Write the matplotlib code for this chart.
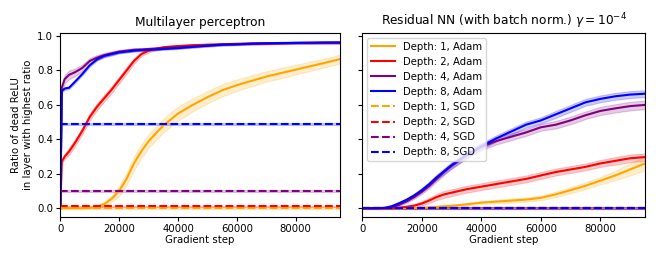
import numpy as np
import matplotlib
matplotlib.use("Agg")
import matplotlib.pyplot as plt

# ---------------- data ----------------
left_steps = [0, 500, 1500, 3000, 5000, 7500, 10000, 12500, 15000, 17500, 20000,
              22500, 25000, 27500, 30000, 35000, 40000, 45000, 50000, 55000, 60000,
              65000, 70000, 75000, 80000, 85000, 90000, 95000]

mlp_d1_adam = [0, 0, 0, 0, 0, 0, 0.002, 0.008, 0.025, 0.055, 0.10, 0.17, 0.26, 0.33,
               0.39, 0.48, 0.55, 0.60, 0.645, 0.685, 0.715, 0.74, 0.765, 0.785, 0.805,
               0.825, 0.845, 0.866]
mlp_d2_adam = [0, 0.27, 0.30, 0.33, 0.38, 0.45, 0.53, 0.59, 0.64, 0.69, 0.745, 0.80,
               0.855, 0.895, 0.915, 0.935, 0.942, 0.947, 0.95, 0.953, 0.955, 0.957,
               0.958, 0.959, 0.96, 0.96, 0.96, 0.96]
mlp_d4_adam = [0, 0.70, 0.75, 0.775, 0.79, 0.815, 0.855, 0.875, 0.89, 0.90, 0.91, 0.915,
               0.92, 0.922, 0.925, 0.93, 0.935, 0.94, 0.945, 0.95, 0.952, 0.955, 0.957,
               0.958, 0.96, 0.96, 0.961, 0.962]
mlp_d8_adam = [0, 0.68, 0.695, 0.70, 0.735, 0.78, 0.83, 0.865, 0.885, 0.895, 0.905, 0.91,
               0.915, 0.918, 0.92, 0.925, 0.93, 0.937, 0.944, 0.95, 0.953, 0.956, 0.958,
               0.96, 0.961, 0.962, 0.963, 0.963]

mlp_d1_spread = [0, 0, 0, 0, 0, 0, 0.002, 0.005, 0.01, 0.02, 0.03, 0.035, 0.04, 0.04,
                 0.04, 0.04, 0.04, 0.038, 0.036, 0.035, 0.033, 0.032, 0.03, 0.03, 0.028,
                 0.027, 0.026, 0.025]
mlp_d2_spread = [0, 0.01, 0.015, 0.02, 0.02, 0.02, 0.02, 0.02, 0.02, 0.02, 0.02, 0.02,
                 0.015, 0.012, 0.01, 0.008, 0.006, 0.005, 0.005, 0.005, 0.005, 0.005,
                 0.005, 0.005, 0.005, 0.005, 0.005, 0.005]
mlp_d4_spread = [0, 0.02, 0.025, 0.025, 0.022, 0.02, 0.018, 0.015, 0.013, 0.012, 0.01,
                 0.01, 0.01, 0.009, 0.008, 0.008, 0.007, 0.006, 0.006, 0.005, 0.005,
                 0.005, 0.005, 0.005, 0.005, 0.005, 0.005, 0.005]
mlp_d8_spread = [0, 0.008, 0.008, 0.008, 0.008, 0.008, 0.008, 0.007, 0.006, 0.006, 0.005,
                 0.005, 0.005, 0.005, 0.005, 0.005, 0.005, 0.005, 0.005, 0.005, 0.005,
                 0.005, 0.005, 0.005, 0.005, 0.005, 0.005, 0.005]

mlp_sgd_levels = [0.0, 0.01, 0.10, 0.49]   # depth 1, 2, 4, 8

right_steps = [0, 5000, 7500, 10000, 12500, 15000, 17500, 20000, 22500, 25000, 27500,
               30000, 35000, 40000, 45000, 50000, 55000, 60000, 65000, 70000, 75000,
               80000, 85000, 90000, 95000]

res_d1_adam = [0, 0, 0, 0, 0, 0, 0, 0.002, 0.005, 0.008, 0.011, 0.014, 0.022, 0.032,
               0.038, 0.044, 0.05, 0.06, 0.08, 0.105, 0.13, 0.16, 0.19, 0.225, 0.26]
res_d2_adam = [0, 0, 0, 0, 0.003, 0.008, 0.015, 0.027, 0.045, 0.065, 0.08, 0.09, 0.11,
               0.125, 0.14, 0.155, 0.17, 0.19, 0.21, 0.225, 0.24, 0.26, 0.275, 0.29,
               0.297]
res_d4_adam = [0, 0, 0, 0.005, 0.02, 0.04, 0.065, 0.095, 0.13, 0.17, 0.21, 0.245, 0.305,
               0.355, 0.39, 0.415, 0.44, 0.47, 0.485, 0.51, 0.54, 0.565, 0.58, 0.593,
               0.60]
res_d8_adam = [0, 0, 0.002, 0.012, 0.03, 0.05, 0.075, 0.105, 0.14, 0.18, 0.215, 0.25,
               0.31, 0.36, 0.405, 0.445, 0.485, 0.51, 0.545, 0.58, 0.615, 0.635, 0.65,
               0.66, 0.665]

res_d1_spread = [0, 0, 0, 0, 0, 0, 0, 0.002, 0.003, 0.004, 0.005, 0.006, 0.008, 0.01,
                 0.01, 0.012, 0.012, 0.014, 0.016, 0.018, 0.02, 0.022, 0.028, 0.035, 0.04]
res_d2_spread = [0, 0, 0, 0, 0.004, 0.008, 0.01, 0.012, 0.015, 0.018, 0.02, 0.02, 0.02,
                 0.02, 0.02, 0.02, 0.02, 0.02, 0.02, 0.02, 0.02, 0.02, 0.022, 0.022, 0.022]
res_d4_spread = [0, 0, 0, 0.004, 0.006, 0.008, 0.01, 0.012, 0.014, 0.015, 0.016, 0.017,
                 0.018, 0.018, 0.02, 0.02, 0.02, 0.02, 0.022, 0.022, 0.022, 0.024, 0.024,
                 0.025, 0.025]
res_d8_spread = [0, 0, 0.002, 0.004, 0.006, 0.008, 0.01, 0.012, 0.014, 0.015, 0.016,
                 0.017, 0.018, 0.018, 0.018, 0.018, 0.018, 0.018, 0.02, 0.02, 0.02, 0.02,
                 0.02, 0.02, 0.02]

res_sgd_levels = [0.0, 0.0, 0.0, 0.0]

depths = [1, 2, 4, 8]
colors = ["orange", "red", "purple", "blue"]

# ---------------- plotting ----------------
fs = 7.3
plt.rcParams["font.family"] = ["DejaVu Sans"]
plt.rcParams["font.size"] = fs

fig = plt.figure(figsize=(6.64, 2.59), dpi=100)
axL = fig.add_axes([0.0908, 0.163, 0.4212, 0.711])
axR = fig.add_axes([0.5456, 0.163, 0.4258, 0.711], sharey=axL)

left_adam = [mlp_d1_adam, mlp_d2_adam, mlp_d4_adam, mlp_d8_adam]
left_spread = [mlp_d1_spread, mlp_d2_spread, mlp_d4_spread, mlp_d8_spread]
right_adam = [res_d1_adam, res_d2_adam, res_d4_adam, res_d8_adam]
right_spread = [res_d1_spread, res_d2_spread, res_d4_spread, res_d8_spread]

LW = 1.5


def draw(ax, steps, adam, spread, sgd):
    x = np.array(steps)
    for d, c, y, s in zip(depths, colors, adam, spread):
        y = np.array(y)
        s = np.array(s)
        ax.fill_between(x, y - s, y + s, color=c, alpha=0.2, linewidth=0.8)
        ax.plot(x, y, color=c, lw=LW, label=f"Depth: {d}, Adam")
    for d, c, lvl in zip(depths, colors, sgd):
        yv = np.full(len(x), lvl)
        ax.fill_between(x, yv - 0.004, yv + 0.004, color=c, alpha=0.2, linewidth=0.8)
        ax.plot(x, yv, color=c, lw=LW, ls="--", label=f"Depth: {d}, SGD")
    ax.set_xlim(0, 95000)
    ax.set_xticks([0, 20000, 40000, 60000, 80000])
    ax.set_xlabel("Gradient step", fontsize=fs, labelpad=1)
    ax.tick_params(labelsize=fs, length=3, pad=2)


draw(axL, left_steps, left_adam, left_spread, mlp_sgd_levels)
draw(axR, right_steps, right_adam, right_spread, res_sgd_levels)

axL.set_ylim(-0.05, 1.02)
axL.set_yticks([0.0, 0.2, 0.4, 0.6, 0.8, 1.0])
axL.set_ylabel("Ratio of dead ReLU\nin layer with highest ratio", fontsize=fs, labelpad=3)
axL.set_title("Multilayer perceptron", fontsize=8.7, pad=5)
axR.set_title(r"Residual NN (with batch norm.) $\gamma = 10^{-4}$", fontsize=8.7, pad=5)
plt.setp(axR.get_yticklabels(), visible=False)

axR.legend(loc="upper left", fontsize=fs, handlelength=2.3, labelspacing=0.5,
           borderpad=0.4, handletextpad=0.8, framealpha=0.8)

fig.savefig("out.png", dpi=100)
